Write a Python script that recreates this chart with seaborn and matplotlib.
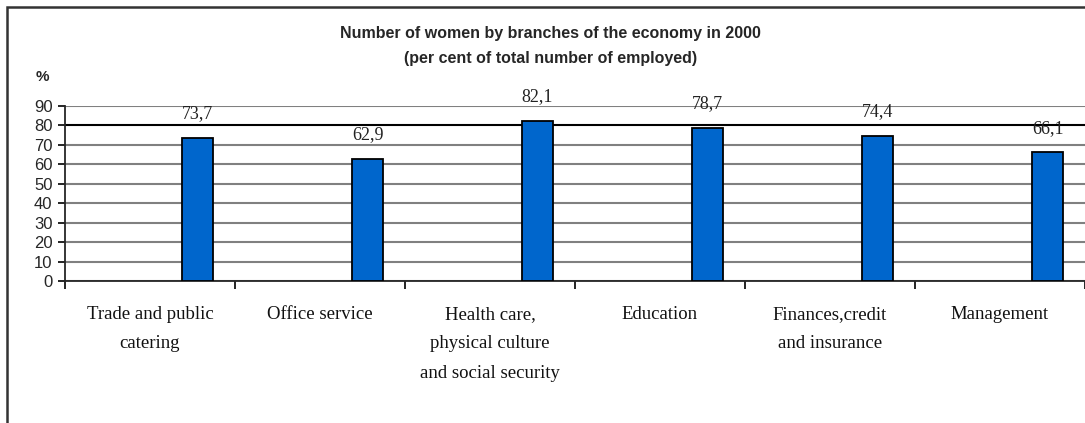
"""
Women by branches of the economy in 2000 - bar chart
"""
import matplotlib
matplotlib.use("Agg")
import matplotlib.pyplot as plt
import matplotlib.patches as mpatches
from matplotlib.ticker import FixedLocator
import seaborn as sns

# data
branches = [
    "Trade and public\ncatering",
    "Office service",
    "Health care,\nphysical culture\nand social security",
    "Education",
    "Finances,credit\nand insurance",
    "Management",
]
women_share = [73.7, 62.9, 82.1, 78.7, 74.4, 66.1]
y_ticks = [0, 10, 20, 30, 40, 50, 60, 70, 80, 90]

title_text = ("Number of women by branches of the economy in 2000\n"
              "(per cent of total number of employed)")

sns.set_style("white")
plt.rcParams['font.family'] = ['Liberation Sans', 'DejaVu Sans']

fig = plt.figure(figsize=(10.85, 4.23), dpi=100)
ax = fig.add_axes([65 / 1085, 1 - 281 / 423, 1 - 65 / 1085, (281 - 106) / 423])

sns.barplot(x=branches, y=women_share, width=0.18, color="#0066CC",
            edgecolor="black", linewidth=1.3, saturation=1, ax=ax, zorder=3)

# bars sit in the right part of each category slot
for patch in ax.patches:
    patch.set_x(patch.get_x() + 0.28)

for patch, val in zip(ax.patches, women_share):
    ax.annotate(f"{val:.1f}".replace(".", ","),
                (patch.get_x() + patch.get_width() / 2, patch.get_height()),
                xytext=(0, 17.5), textcoords="offset points",
                ha="center", va="center", fontsize=13,
                family="Liberation Serif", color="#222222")

ax.set_xlim(-0.5, len(branches) - 0.5)
ax.set_ylim(0, 90)
ax.set_yticks(y_ticks)
ax.set_xlabel("")
ax.set_ylabel("")

ax.yaxis.grid(True, color="#808080", linewidth=1.5)
ax.get_ygridlines()[8].set_color("black")
ax.set_axisbelow(True)

for side in ["top", "right"]:
    ax.spines[side].set_visible(False)
ax.spines["left"].set_linewidth(1.3)
ax.spines["bottom"].set_linewidth(1.3)

ax.tick_params(axis="y", length=5, width=1.2, left=True, pad=4,
               labelsize=12, color="black")
ax.tick_params(axis="x", which="major", length=0, pad=18)
for lab in ax.get_xticklabels():
    lab.set_fontfamily("Liberation Serif")
    lab.set_fontsize(13.5)
    lab.set_linespacing(1.95)
    lab.set_color("#111111")

ax.xaxis.set_minor_locator(FixedLocator([i + 0.5 for i in range(-1, len(branches))]))
ax.tick_params(axis="x", which="minor", length=6, width=1.2, bottom=True, color="black")

fig.text(0.507, 1 - 46 / 423, title_text, ha="center", va="center",
         fontsize=11.5, fontweight="bold", linespacing=1.9)
fig.text(42 / 1085, 1 - 77 / 423, "%", ha="center", va="center",
         fontsize=11, fontweight="bold")

# outer chart border (only left and top visible in the crop)
frame = mpatches.Rectangle((7 / 1085, -0.2), 1.2, 1.2 - 7 / 423,
                           transform=fig.transFigure, fill=False,
                           edgecolor="#333333", linewidth=1.8)
fig.add_artist(frame)

fig.savefig("out.png", dpi=100)
plt.close(fig)
